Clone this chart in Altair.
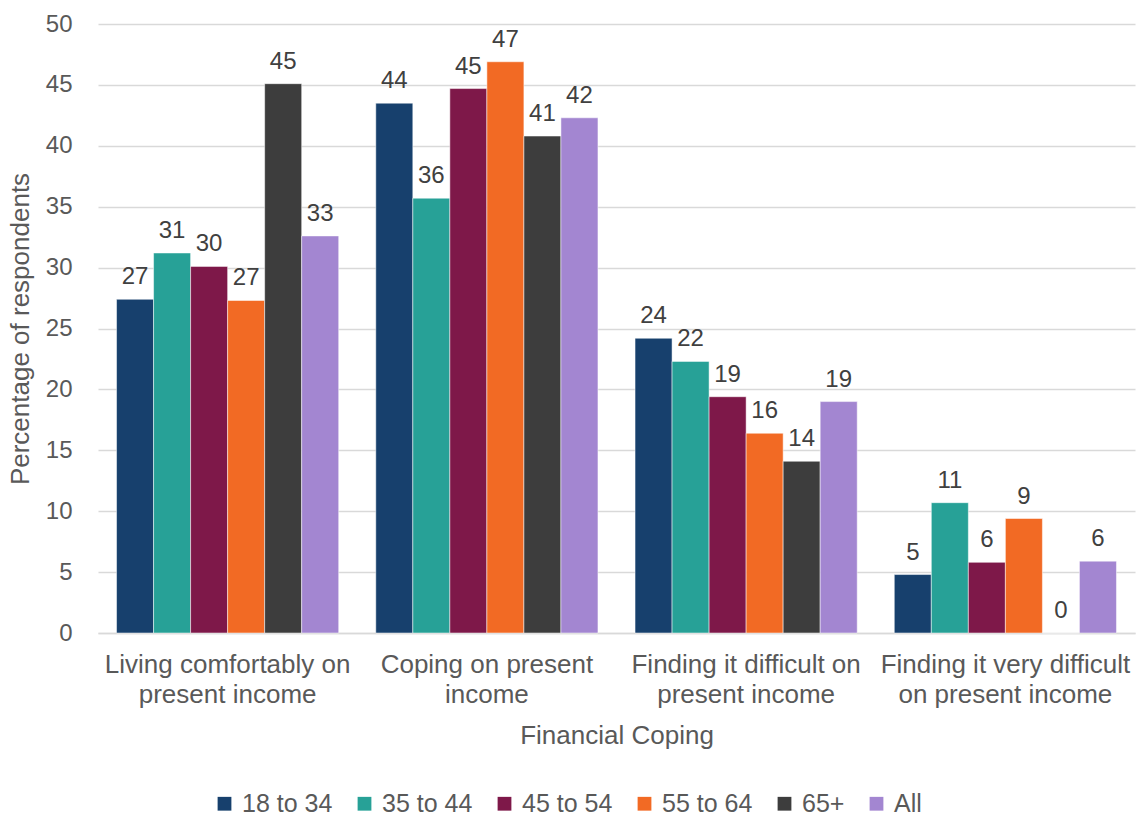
import altair as alt
import pandas as pd

# Survey categories (the "|" marks a line break in the axis label)
categories = [
    "Living comfortably on|present income",
    "Coping on present|income",
    "Finding it difficult on|present income",
    "Finding it very difficult|on present income",
]
groups = ["18 to 34", "35 to 44", "45 to 54", "55 to 64", "65+", "All"]
colors = ["#17406D", "#27A197", "#7E1849", "#F26A24", "#3D3D3D", "#A386D1"]

# Percentage of respondents, one list per age group (in category order)
age_18_34 = [27.4, 43.5, 24.2, 4.8]
age_35_44 = [31.2, 35.7, 22.3, 10.7]
age_45_54 = [30.1, 44.7, 19.4, 5.8]
age_55_64 = [27.3, 46.9, 16.4, 9.4]
age_65_plus = [45.1, 40.8, 14.1, 0.0]
age_all = [32.6, 42.3, 19.0, 5.9]

series = [age_18_34, age_35_44, age_45_54, age_55_64, age_65_plus, age_all]
rows = []
for g, vals in zip(groups, series):
    for c, v in zip(categories, vals):
        rows.append({"category": c, "group": g, "value": v})
df = pd.DataFrame(rows)

FONT = "Liberation Sans"
TXT = "#595959"

x_enc = alt.X(
    "category:N",
    sort=categories,
    scale=alt.Scale(paddingInner=0.143, paddingOuter=0.0715),
    axis=alt.Axis(
        title="Financial Coping",
        labelAngle=0,
        labelExpr="split(datum.label, '|')",
        labelFontSize=26,
        labelLineHeight=30,
        labelLimit=0,
        labelPadding=18,
        labelColor=TXT,
        labelFont=FONT,
        titleFont=FONT,
        titleFontSize=26,
        titleFontWeight="normal",
        titleColor=TXT,
        titlePadding=15,
        ticks=False,
        domainColor="#D9D9D9",
        domainWidth=1.5,
        grid=False,
    ),
)
xoff = alt.XOffset("group:N", sort=groups, scale=alt.Scale(paddingInner=0, paddingOuter=0))
y_enc = alt.Y(
    "value:Q",
    scale=alt.Scale(domain=[0, 50], nice=False),
    axis=alt.Axis(
        title="Percentage of respondents",
        values=list(range(0, 51, 5)),
        labelFontSize=24,
        labelColor=TXT,
        labelFont=FONT,
        labelPadding=26,
        titleFont=FONT,
        titleFontSize=26,
        titleFontWeight="normal",
        titleColor=TXT,
        titlePadding=12,
        ticks=False,
        domain=False,
        gridColor="#D9D9D9",
        gridWidth=1.5,
    ),
)

bars = alt.Chart(df).mark_bar(stroke="white", strokeWidth=0.5).encode(
    x=x_enc,
    xOffset=xoff,
    y=y_enc,
    color=alt.Color(
        "group:N",
        sort=groups,
        scale=alt.Scale(domain=groups, range=colors),
        legend=alt.Legend(
            title=None,
            orient="none",
            direction="horizontal",
            legendX=114,
            legendY=767,
            symbolType="square",
            symbolSize=190,
            symbolStrokeWidth=0,
            labelFontSize=25,
            labelFont=FONT,
            labelColor=TXT,
            labelOffset=5,
            columnPadding=19,
        ),
    ),
)

labels = alt.Chart(df).mark_text(
    baseline="alphabetic", dy=-15, fontSize=24, font=FONT, color="#404040"
).encode(
    x=alt.X("category:N", sort=categories),
    xOffset=alt.XOffset("group:N", sort=groups),
    y="value:Q",
    text=alt.Text("value:Q", format=".0f"),
)

chart = (
    alt.layer(bars, labels)
    .properties(
        width=1037,
        height=609,
        autosize=alt.AutoSizeParams(type="none"),
        padding={"left": 98, "top": 24, "right": 3, "bottom": 184},
        background="white",
    )
    .configure_view(stroke=None)
)

chart.save("out.html", embed_options={"renderer": "svg", "actions": False})
